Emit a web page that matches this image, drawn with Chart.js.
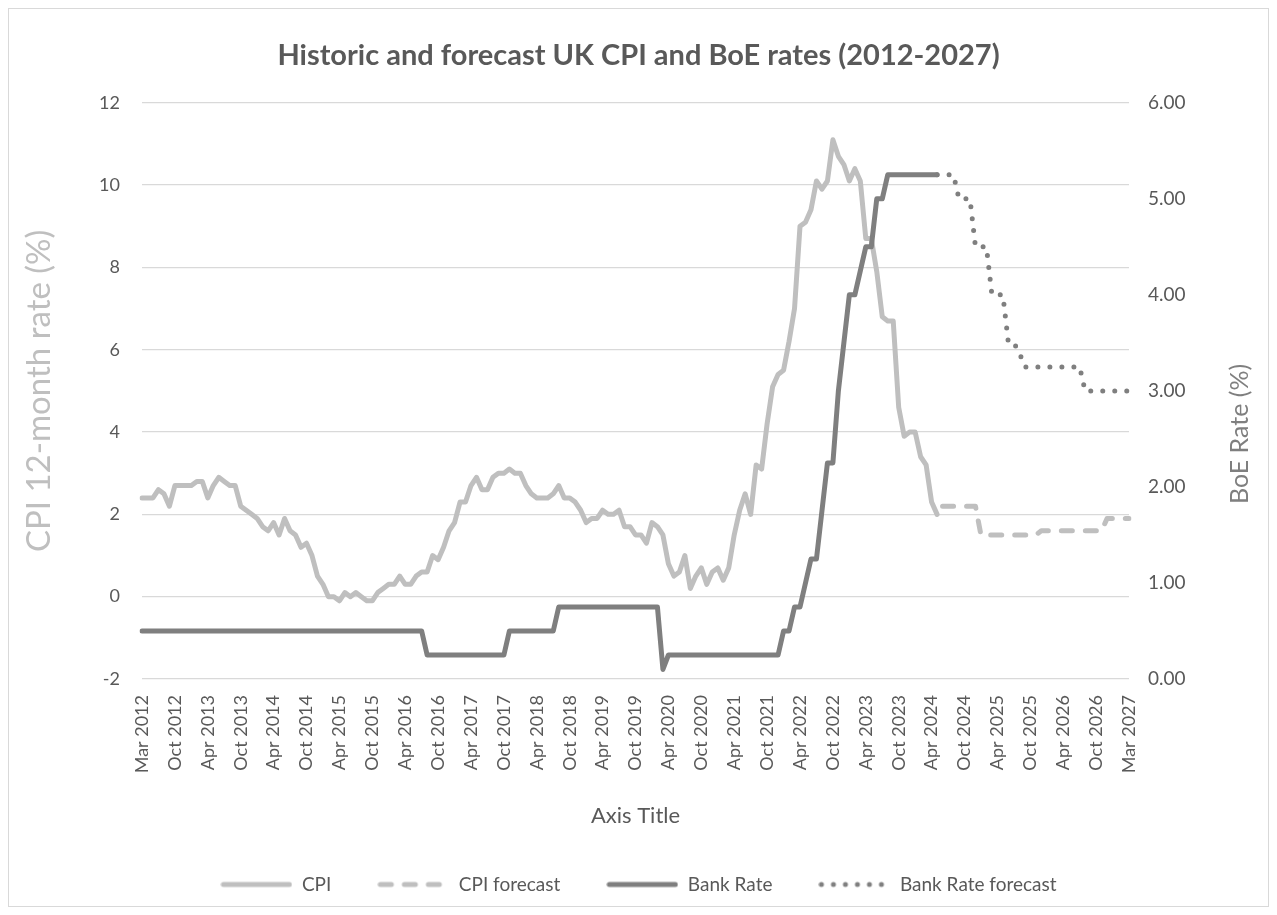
<!DOCTYPE html>
<html>
<head>
<meta charset="utf-8">
<title>Historic and forecast UK CPI and BoE rates (2012-2027)</title>
<script src="https://cdn.jsdelivr.net/npm/chart.js@4.4.1/dist/chart.umd.min.js"></script>
<style>
  html, body { margin: 0; padding: 0; background: #fff; }
  canvas { display: block; }
</style>
</head>
<body>
<canvas id="ratesChart" width="1277" height="915"></canvas>
<script>
// 181 monthly points; a label every 6 points
const tickLabels = [
  'Mar 2012', 'Oct 2012', 'Apr 2013', 'Oct 2013', 'Apr 2014', 'Oct 2014', 'Apr 2015', 'Oct 2015',
  'Apr 2016', 'Oct 2016', 'Apr 2017', 'Oct 2017', 'Apr 2018', 'Oct 2018', 'Apr 2019', 'Oct 2019',
  'Apr 2020', 'Oct 2020', 'Apr 2021', 'Oct 2021', 'Apr 2022', 'Oct 2022', 'Apr 2023', 'Oct 2023',
  'Apr 2024', 'Oct 2024', 'Apr 2025', 'Oct 2025', 'Apr 2026', 'Oct 2026', 'Mar 2027'
];
const pointCount = 181;

// CPI 12-month rate (%), points 0..145
const cpi = [
  2.4, 2.4, 2.4, 2.6, 2.5, 2.2, 2.7, 2.7, 2.7, 2.7, 2.8, 2.8,
  2.4, 2.7, 2.9, 2.8, 2.7, 2.7, 2.2, 2.1, 2.0, 1.9, 1.7, 1.6,
  1.8, 1.5, 1.9, 1.6, 1.5, 1.2, 1.3, 1.0, 0.5, 0.3, 0.0, 0.0,
  -0.1, 0.1, 0.0, 0.1, 0.0, -0.1, -0.1, 0.1, 0.2, 0.3, 0.3, 0.5,
  0.3, 0.3, 0.5, 0.6, 0.6, 1.0, 0.9, 1.2, 1.6, 1.8, 2.3, 2.3,
  2.7, 2.9, 2.6, 2.6, 2.9, 3.0, 3.0, 3.1, 3.0, 3.0, 2.7, 2.5,
  2.4, 2.4, 2.4, 2.5, 2.7, 2.4, 2.4, 2.3, 2.1, 1.8, 1.9, 1.9,
  2.1, 2.0, 2.0, 2.1, 1.7, 1.7, 1.5, 1.5, 1.3, 1.8, 1.7, 1.5,
  0.8, 0.5, 0.6, 1.0, 0.2, 0.5, 0.7, 0.3, 0.6, 0.7, 0.4, 0.7,
  1.5, 2.1, 2.5, 2.0, 3.2, 3.1, 4.2, 5.1, 5.4, 5.5, 6.2, 7.0,
  9.0, 9.1, 9.4, 10.1, 9.9, 10.1, 11.1, 10.7, 10.5, 10.1, 10.4, 10.1,
  8.7, 8.7, 7.9, 6.8, 6.7, 6.7, 4.6, 3.9, 4.0, 4.0, 3.4, 3.2,
  2.3, 2.0
];

// CPI forecast (%), points 146..180
const cpiForecastStart = 146;
const cpiForecast = [
  2.2, 2.2, 2.2, 2.2, 2.2, 2.2, 2.2,
  1.5, 1.5, 1.5, 1.5, 1.5, 1.5, 1.5, 1.5, 1.5, 1.5, 1.5,
  1.6, 1.6, 1.6, 1.6, 1.6, 1.6, 1.6, 1.6, 1.6, 1.6, 1.6, 1.6,
  1.9, 1.9, 1.9, 1.9, 1.9
];

// Bank Rate (%), points 0..145
const bankRate = [
  0.5, 0.5, 0.5, 0.5, 0.5, 0.5, 0.5, 0.5, 0.5, 0.5, 0.5, 0.5,
  0.5, 0.5, 0.5, 0.5, 0.5, 0.5, 0.5, 0.5, 0.5, 0.5, 0.5, 0.5,
  0.5, 0.5, 0.5, 0.5, 0.5, 0.5, 0.5, 0.5, 0.5, 0.5, 0.5, 0.5,
  0.5, 0.5, 0.5, 0.5, 0.5, 0.5, 0.5, 0.5, 0.5, 0.5, 0.5, 0.5,
  0.5, 0.5, 0.5, 0.5, 0.25, 0.25, 0.25, 0.25, 0.25, 0.25, 0.25, 0.25,
  0.25, 0.25, 0.25, 0.25, 0.25, 0.25, 0.25, 0.5, 0.5, 0.5, 0.5, 0.5,
  0.5, 0.5, 0.5, 0.5, 0.75, 0.75, 0.75, 0.75, 0.75, 0.75, 0.75, 0.75,
  0.75, 0.75, 0.75, 0.75, 0.75, 0.75, 0.75, 0.75, 0.75, 0.75, 0.75, 0.1,
  0.25, 0.25, 0.25, 0.25, 0.25, 0.25, 0.25, 0.25, 0.25, 0.25, 0.25, 0.25,
  0.25, 0.25, 0.25, 0.25, 0.25, 0.25, 0.25, 0.25, 0.25, 0.5, 0.5, 0.75,
  0.75, 1.0, 1.25, 1.25, 1.75, 2.25, 2.25, 3.0, 3.5, 4.0, 4.0, 4.25,
  4.5, 4.5, 5.0, 5.0, 5.25, 5.25, 5.25, 5.25, 5.25, 5.25, 5.25, 5.25,
  5.25, 5.25
];

// Bank Rate forecast (%), points 145..180
const bankRateForecastStart = 145;
const bankRateForecast = [
  5.25, 5.25, 5.25, 5.25, 5.0, 5.0, 5.0, 4.5, 4.5, 4.5, 4.0, 4.0,
  4.0, 3.5, 3.5, 3.4, 3.25, 3.25, 3.25, 3.25, 3.25, 3.25, 3.25, 3.25,
  3.25, 3.25, 3.25, 3.0, 3.0, 3.0, 3.0, 3.0, 3.0, 3.0, 3.0, 3.0
];

const FONT = 'Lato, "Open Sans", sans-serif';
const TEXT = '#595959';
const CPI_GREY = '#bfbfbf';
const RATE_GREY = '#7f7f7f';
const DASH = [11, 13];
const DOTS = [0, 12];

// place a partial series on the full 181-point axis
function placed(values, start) {
  const out = new Array(pointCount).fill(null);
  values.forEach((v, i) => { out[start + i] = v; });
  return out;
}

// small canvas used as the legend key, so dashes and dots show there too
function legendKey(color, dash) {
  const c = document.createElement('canvas');
  c.width = 72;
  c.height = 8;
  const g = c.getContext('2d');
  g.strokeStyle = color;
  g.lineWidth = 5;
  g.lineCap = 'round';
  g.setLineDash(dash);
  g.beginPath();
  g.moveTo(3, 4);
  g.lineTo(69, 4);
  g.stroke();
  return c;
}

const labels = new Array(pointCount).fill('').map((_, i) => (i % 6 === 0 ? tickLabels[i / 6] : ''));

// white background and thin chart border
const chartFrame = {
  id: 'chartFrame',
  beforeDraw(chart) {
    const { ctx, width, height } = chart;
    ctx.save();
    ctx.fillStyle = '#ffffff';
    ctx.fillRect(0, 0, width, height);
    ctx.strokeStyle = '#d9d9d9';
    ctx.lineWidth = 1;
    ctx.strokeRect(8.5, 8.5, width - 17, height - 17);
    ctx.restore();
  }
};

// secondary axis title, read bottom to top like the primary one
const rightAxisTitle = {
  id: 'rightAxisTitle',
  afterDraw(chart) {
    const { ctx, chartArea } = chart;
    ctx.save();
    ctx.translate(chart.width - 37, (chartArea.top + chartArea.bottom) / 2 + 43);
    ctx.rotate(-Math.PI / 2);
    ctx.font = '25px ' + FONT;
    ctx.fillStyle = RATE_GREY;
    ctx.textAlign = 'center';
    ctx.textBaseline = 'middle';
    ctx.fillText('BoE Rate (%)', 0, 0);
    ctx.restore();
  }
};

const ctx = document.getElementById('ratesChart').getContext('2d');
const ratesChart = new Chart(ctx, {
  type: 'line',
  data: {
    labels: labels,
    datasets: [
      {
        label: 'CPI',
        data: placed(cpi, 0),
        yAxisID: 'y',
        borderColor: CPI_GREY,
        backgroundColor: CPI_GREY,
        borderWidth: 5,
        borderCapStyle: 'round',
        borderJoinStyle: 'round',
        pointRadius: 0,
        pointStyle: legendKey(CPI_GREY, []),
        order: 3
      },
      {
        label: 'CPI forecast',
        data: placed(cpiForecast, cpiForecastStart),
        yAxisID: 'y',
        borderColor: CPI_GREY,
        backgroundColor: CPI_GREY,
        borderWidth: 5,
        borderDash: DASH,
        borderCapStyle: 'round',
        borderJoinStyle: 'round',
        pointRadius: 0,
        pointStyle: legendKey(CPI_GREY, DASH),
        order: 2
      },
      {
        label: 'Bank Rate',
        data: placed(bankRate, 0),
        yAxisID: 'y1',
        borderColor: RATE_GREY,
        backgroundColor: RATE_GREY,
        borderWidth: 5,
        borderCapStyle: 'round',
        borderJoinStyle: 'round',
        pointRadius: 0,
        pointStyle: legendKey(RATE_GREY, []),
        order: 1
      },
      {
        label: 'Bank Rate forecast',
        data: placed(bankRateForecast, bankRateForecastStart),
        yAxisID: 'y1',
        borderColor: RATE_GREY,
        backgroundColor: RATE_GREY,
        borderWidth: 5,
        borderDash: DOTS,
        borderCapStyle: 'round',
        borderJoinStyle: 'round',
        pointRadius: 0,
        pointStyle: legendKey(RATE_GREY, DOTS),
        order: 0
      }
    ]
  },
  options: {
    responsive: false,
    animation: false,
    layout: { padding: { top: 0, left: 10, right: 10, bottom: 11 } },
    plugins: {
      title: {
        display: true,
        text: 'Historic and forecast UK CPI and BoE rates (2012-2027)',
        color: TEXT,
        font: { family: FONT, size: 29, weight: 'bold' },
        padding: { top: 38, bottom: 30 }
      },
      legend: {
        position: 'bottom',
        labels: {
          color: TEXT,
          font: { family: FONT, size: 19 },
          usePointStyle: true,
          pointStyleWidth: 72,
          padding: 46,
          sort: (a, b) => a.datasetIndex - b.datasetIndex
        }
      },
      tooltip: { enabled: false }
    },
    scales: {
      x: {
        grid: { display: false },
        border: { display: false },
        ticks: {
          autoSkip: false,
          minRotation: 90,
          maxRotation: 90,
          padding: 8,
          color: TEXT,
          font: { family: FONT, size: 18 },
          callback: function (value, index) {
            const lbl = labels[index];
            return lbl ? lbl : null;
          }
        },
        title: {
          display: true,
          text: 'Axis Title',
          color: TEXT,
          font: { family: FONT, size: 22 },
          padding: { top: 4, bottom: 0 }
        },
        afterFit: (scale) => { scale.height = 150; }
      },
      y: {
        position: 'left',
        min: -2,
        max: 12,
        border: { display: false },
        grid: { color: '#d9d9d9', lineWidth: 1.3, drawTicks: false },
        ticks: {
          stepSize: 2,
          padding: 22,
          color: TEXT,
          font: { family: FONT, size: 18 }
        },
        title: {
          display: true,
          text: 'CPI 12-month rate (%)',
          color: CPI_GREY,
          font: { family: FONT, size: 33 },
          padding: { top: 10, bottom: 0 }
        },
        afterFit: (scale) => { scale.width = 132; }
      },
      y1: {
        position: 'right',
        min: 0,
        max: 6,
        border: { display: false },
        grid: { display: false, drawTicks: false },
        ticks: {
          stepSize: 1,
          padding: 19,
          color: TEXT,
          font: { family: FONT, size: 19 },
          callback: (v) => Number(v).toFixed(2)
        },
        afterFit: (scale) => { scale.width = 138; }
      }
    }
  },
  plugins: [chartFrame, rightAxisTitle]
});
</script>
</body>
</html>
